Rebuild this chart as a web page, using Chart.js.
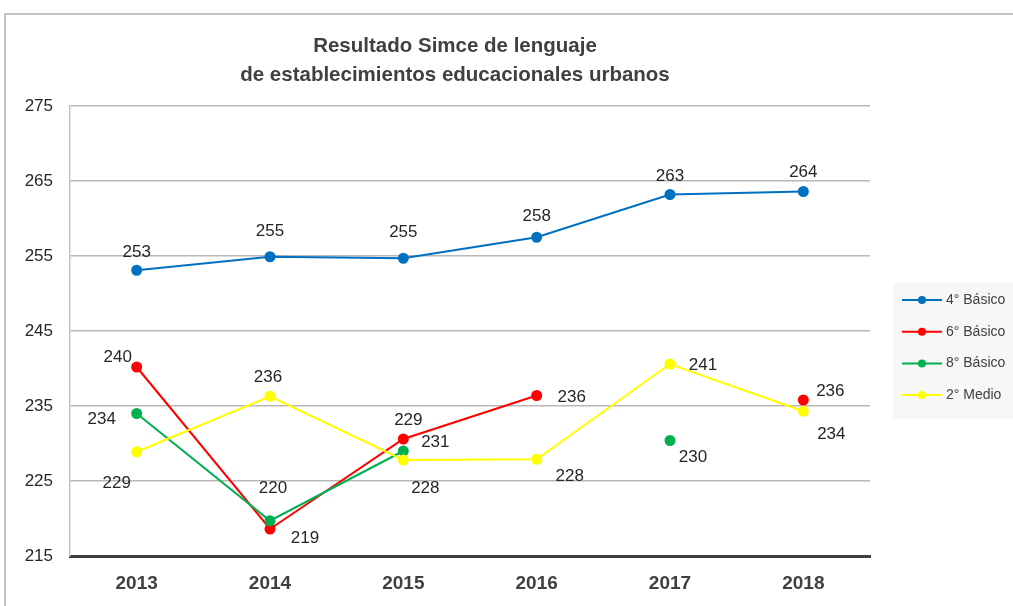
<!DOCTYPE html>
<html>
<head>
<meta charset="utf-8">
<script src="https://cdn.jsdelivr.net/npm/chart.js@4.4.0/dist/chart.umd.min.js"></script>
<style>
  html, body { margin: 0; padding: 0; background: #fff; }
  #wrap { position: relative; width: 1013px; height: 606px; overflow: hidden; }
  #frame { position: absolute; left: 4px; top: 13px; width: 1020px; height: 620px; border: 2px solid #c4c4c4; box-sizing: border-box; }
  canvas { position: absolute; left: 0; top: 0; }
</style>
</head>
<body>
<div id="wrap">
  <div id="frame"></div>
  <canvas id="chart" width="1013" height="606"></canvas>
</div>
<script>
// categories and values
const years = ['2013', '2014', '2015', '2016', '2017', '2018'];
const basico4 = [253.1, 254.9, 254.7, 257.5, 263.2, 263.6];
const basico6 = [240.2, 218.6, 230.6, 236.4, null, 235.8];
const basico8 = [234.0, 219.7, 229.0, null, 230.4, null];
const medio2 = [228.9, 236.3, 227.8, 227.9, 240.6, 234.3];

// data label texts as printed on the chart
const labels4 = ['253', '255', '255', '258', '263', '264'];
const labels6 = ['240', '219', '229', '236', null, '236'];
const labels8 = ['234', '220', '231', null, '230', null];
const labelsM2 = ['229', '236', '228', '228', '241', '234'];

const yTicks = [215, 225, 235, 245, 255, 265, 275];
const titleLines = ['Resultado Simce de lenguaje', 'de establecimientos educacionales urbanos'];

// label offsets (px) relative to each point
const offsets = [
  [[0, -18], [0, -25], [0, -26], [0, -21], [0, -18], [0, -19]],
  [[-19, -10], [35, 9], [5, -19], [35, 2], null, [27, -9]],
  [[-35, 6], [3, -32], [32, -9], null, [23, 17], null],
  [[-20, 32], [-2, -19], [22, 28], [33, 17], [33, 1], [28, 23]]
];

const FONT = '"Liberation Sans", Arial, sans-serif';

const titlePlugin = {
  id: 'twoLineTitle',
  afterDraw(chart) {
    const ctx = chart.ctx;
    ctx.save();
    ctx.fillStyle = '#404040';
    ctx.font = 'bold 20.5px ' + FONT;
    ctx.textAlign = 'center';
    ctx.textBaseline = 'middle';
    ctx.fillText(titleLines[0], 455, 46);
    ctx.fillText(titleLines[1], 455, 75);
    ctx.restore();
  }
};

const valueLabels = {
  id: 'valueLabels',
  afterDatasetsDraw(chart) {
    const ctx = chart.ctx;
    ctx.save();
    ctx.font = '17px ' + FONT;
    ctx.fillStyle = '#262626';
    ctx.textAlign = 'center';
    ctx.textBaseline = 'middle';
    chart.data.datasets.forEach((ds, di) => {
      const meta = chart.getDatasetMeta(di);
      meta.data.forEach((pt, i) => {
        const txt = ds.pointLabels[i];
        if (txt == null || ds.data[i] == null) return;
        const off = offsets[di][i] || [0, -18];
        ctx.fillText(txt, pt.x + off[0], pt.y + off[1]);
      });
    });
    ctx.restore();
  }
};

const sideLegend = {
  id: 'sideLegend',
  afterDraw(chart) {
    const ctx = chart.ctx;
    ctx.save();
    ctx.fillStyle = '#f7f7f7';
    ctx.fillRect(893, 283, 120, 136);
    ctx.font = '14px ' + FONT;
    ctx.textBaseline = 'middle';
    ctx.textAlign = 'left';
    chart.data.datasets.forEach((ds, i) => {
      const y = 300 + i * 31.7;
      ctx.strokeStyle = ds.borderColor;
      ctx.lineWidth = 2;
      ctx.beginPath();
      ctx.moveTo(902, y);
      ctx.lineTo(942, y);
      ctx.stroke();
      ctx.fillStyle = ds.borderColor;
      ctx.beginPath();
      ctx.arc(922, y, 4, 0, Math.PI * 2);
      ctx.fill();
      ctx.fillStyle = '#404040';
      ctx.fillText(ds.label, 946, y);
    });
    ctx.restore();
  }
};

function series(label, values, texts, color, order) {
  return {
    label: label,
    data: values,
    pointLabels: texts,
    borderColor: color,
    backgroundColor: color,
    pointBackgroundColor: color,
    pointBorderColor: color,
    borderWidth: 2,
    pointRadius: 4.5,
    pointHoverRadius: 4.5,
    tension: 0,
    spanGaps: false,
    order: order
  };
}

new Chart(document.getElementById('chart'), {
  type: 'line',
  data: {
    labels: years,
    datasets: [
      series('4° Básico', basico4, labels4, '#0070C0', 4),
      series('6° Básico', basico6, labels6, '#FF0000', 3),
      series('8° Básico', basico8, labels8, '#00B050', 2),
      series('2° Medio', medio2, labelsM2, '#FFFF00', 1)
    ]
  },
  options: {
    responsive: false,
    animation: false,
    layout: { padding: { left: 0, top: 106, right: 143, bottom: 0 } },
    plugins: {
      legend: { display: false },
      title: { display: false },
      tooltip: { enabled: false }
    },
    scales: {
      x: {
        offset: true,
        afterFit(scale) { scale.height = 50; },
        grid: { display: false, drawTicks: false },
        border: { display: true, color: '#404040', width: 3 },
        ticks: {
          color: '#404040',
          padding: 16,
          font: { family: FONT, size: 19, weight: 'bold' }
        }
      },
      y: {
        min: 215,
        max: 275,
        afterFit(scale) { scale.width = 70; },
        afterBuildTicks(scale) { scale.ticks = yTicks.map(v => ({ value: v })); },
        grid: { color: '#b8b8b8', lineWidth: 1.5, drawTicks: false },
        border: { display: true, color: '#c4c4c4', width: 1.5 },
        ticks: {
          color: '#262626',
          padding: 17,
          font: { family: FONT, size: 17 }
        }
      }
    }
  },
  plugins: [titlePlugin, valueLabels, sideLegend]
});
</script>
</body>
</html>
